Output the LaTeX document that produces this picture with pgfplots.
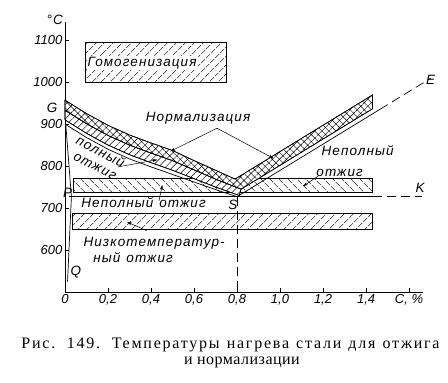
\documentclass[border=0pt]{standalone}
\usepackage{fontspec}
\setmainfont{Liberation Serif}
\newfontfamily\draft[LetterSpace=8]{Liberation Sans}
\newfontfamily\tickfont{Liberation Sans}
\newfontfamily\capfontA[LetterSpace=11]{Liberation Serif}
\newfontfamily\capfontB[LetterSpace=3]{Liberation Serif}
\usepackage{pgfplots}
\pgfplotsset{compat=1.18}
\usetikzlibrary{patterns.meta,arrows.meta}
\newcommand{\dr}{\draft\itshape\fontsize{13.5}{13}\selectfont}
\begin{document}
\begin{tikzpicture}
\begin{axis}[
  x=215pt, y=0.42pt,
  xmin=0, xmax=1.665, ymin=500, ymax=1143,
  axis lines=left,
  axis line style={line width=0.8pt, -},
  clip=false,
  xtick={0,0.2,0.4,0.6,0.8,1.0,1.2,1.4,1.6},
  xticklabels={0,{0,2},{0,4},{0,6},{0,8},{1,0},{1,2},{1,4},{C, \%}},
  ytick={600,700,800,900,1000,1100},
  yticklabels={600,700,800,900,1000,1100},
  tick align=inside, major tick length=4pt,
  tick style={line width=0.7pt, black},
  ticklabel style={font=\tickfont\itshape\fontsize{13}{13}\selectfont},
  yticklabel style={xshift=1pt},
  xticklabel style={yshift=1pt},
]
% bounding box of the whole figure
\path (axis cs:-0.302,285.7) rectangle (axis cs:1.781,1195.2);

% Homogenization box
\addplot[draw=black, line width=0.7pt, pattern={Lines[angle=45,distance=6.5pt,line width=0.5pt]}]
  coordinates {(0.093,1000) (0.75,1000) (0.75,1095) (0.093,1095)} -- cycle;
\node[fill=white, inner sep=1pt, anchor=west, font=\dr] at (axis cs:0.1,1045) {Гомогенизация};

% Incomplete annealing band (upper)
\addplot[draw=black, line width=0.6pt, pattern={Lines[angle=-45,distance=6.5pt,line width=0.5pt]}]
  coordinates {(0.04,738) (1.43,738) (1.43,770) (0.04,770)} -- cycle;
% Low-temperature annealing band
\addplot[draw=black, line width=0.6pt, pattern={Lines[angle=45,distance=6.5pt,line width=0.5pt]}]
  coordinates {(0.035,650) (1.43,650) (1.43,688) (0.035,688)} -- cycle;

% PSK line
\addplot[black, line width=0.7pt] coordinates {(0.02,727) (1.43,727)};
\addplot[black, line width=0.7pt, dash pattern=on 9pt off 5pt] coordinates {(1.43,727) (1.66,727)};

% Full annealing band (hatched)
\addplot[draw=black, line width=0.6pt, fill=white, postaction={pattern={Lines[angle=45,distance=5pt,line width=0.5pt]}}]
  coordinates {(0,910) (0.1,878) (0.2,850) (0.3,827) (0.4,808) (0.5,790) (0.6,770) (0.7,750) (0.81,730)
               (0.819,745) (0.7,769) (0.6,791) (0.5,813) (0.4,831) (0.3,850) (0.2,873) (0.1,901) (0,933)} -- cycle;

% Normalization band (crosshatched, V shaped)
\addplot[draw=black, line width=0.6pt, fill=white, postaction={pattern={Hatch[angle=45,distance=5pt,line width=0.45pt]}}]
  coordinates {(0,957) (0.1,925) (0.2,897) (0.3,874) (0.4,855) (0.5,837) (0.6,813) (0.7,790) (0.791,769)
               (1.43,969.2) (1.43,936.2) (0.819,745)
               (0.7,769) (0.6,791) (0.5,813) (0.4,831) (0.3,850) (0.2,873) (0.1,901) (0,933)} -- cycle;

% GS line
\addplot[black, line width=0.7pt] coordinates {(0,900) (0.1,868) (0.2,840) (0.3,817) (0.4,798) (0.5,780) (0.6,762) (0.7,744) (0.8,727)};
% SE line
\addplot[black, line width=0.7pt] coordinates {(0.8,727) (1.465,935.1)};
\addplot[black, line width=0.7pt, dash pattern=on 9pt off 5pt] coordinates {(1.465,935.1) (1.70,1008.7)};
% vertical dashed at S
\addplot[black, line width=0.7pt, dash pattern=on 9pt off 5pt] coordinates {(0.8,727) (0.8,500)};
% GPQ
\addplot[black, line width=0.7pt] coordinates {(0.003,905) (0.03,727) (0.012,525)};

% point labels
\node[font=\dr] at (axis cs:-0.06,938) {G};
\node[font=\dr] at (axis cs:0.012,735) {P};
\node[font=\dr] at (axis cs:0.781,707) {S};
\node[font=\dr] at (axis cs:0.051,548) {Q};
\node[font=\dr] at (axis cs:1.70,1005) {E};
\node[font=\dr] at (axis cs:1.651,748) {K};
\node[font=\dr] at (axis cs:-0.047,1148) {°C};

% annotations
\node[font=\dr] at (axis cs:0.619,914) {Нормализация};
\draw[line width=0.5pt, -{Stealth[length=5pt,width=3pt]}] (axis cs:0.707,890) -- (axis cs:0.49,835);
\draw[line width=0.5pt, -{Stealth[length=5pt,width=3pt]}] (axis cs:0.707,890) -- (axis cs:0.97,818);

\node[font=\dr, rotate=-27, inner sep=0pt] at (axis cs:0.166,835) {полный};
\node[font=\dr, rotate=-27, inner sep=0pt] at (axis cs:0.139,798) {отжиг};
\draw[line width=0.5pt, -{Stealth[length=5pt,width=3pt]}] (axis cs:0.247,798) -- (axis cs:0.43,815);

\node[font=\dr, anchor=west] at (axis cs:1.177,836) {Неполный};
\node[font=\dr, anchor=west] at (axis cs:1.153,783) {отжиг};
\draw[line width=0.5pt, -{Stealth[length=5pt,width=3pt]}] (axis cs:1.177,776) -- (axis cs:1.107,752);

\node[font=\dr, anchor=west] at (axis cs:0.06,712) {Неполный\hspace{6pt}отжиг};
\draw[line width=0.5pt, -{Stealth[length=5pt,width=3pt]}] (axis cs:0.437,717) -- (axis cs:0.453,755);

\node[font=\dr, anchor=west] at (axis cs:0.07,617) {Низкотемператур-};
\node[font=\dr, anchor=west] at (axis cs:0.116,581) {ный\hspace{6pt}отжиг};
\draw[line width=0.5pt, -{Stealth[length=5pt,width=3pt]}] (axis cs:0.381,646) -- (axis cs:0.288,667);

% caption
\node[anchor=base, inner sep=0pt, font=\capfontA\fontsize{16}{15}\selectfont] at (axis cs:0.7698,366.7) {\makebox[418pt][s]{Рис. 149. Температуры нагрева стали для отжига}};
\node[anchor=base, inner sep=0pt, font=\capfontB\fontsize{16}{15}\selectfont] at (axis cs:0.823,328.6) {и нормализации};
\end{axis}
\end{tikzpicture}
\end{document}
